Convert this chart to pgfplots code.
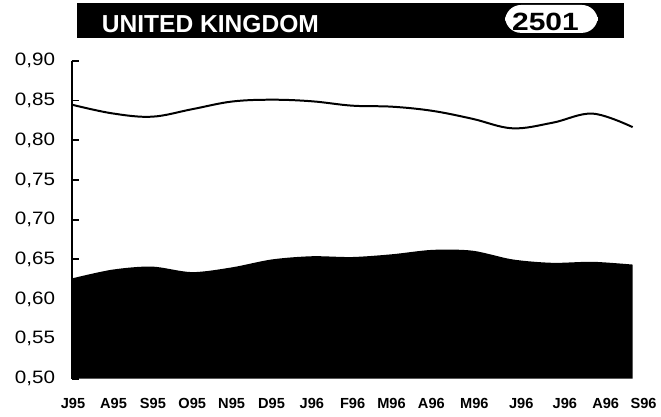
\documentclass[border=0pt]{standalone}
\usepackage{pgfplots}
\pgfplotsset{compat=1.18}
\usepackage{fontspec}
\setmainfont{Liberation Sans}
\newfontfamily\wideticks[FakeStretch=1.15]{Liberation Sans}
\begin{document}
\begin{tikzpicture}
\begin{axis}[
  at={(0,0)}, anchor=south west,
  scale only axis,
  width=437.3pt, height=239.25pt,
  xmin=0, xmax=14.5, ymin=0.5, ymax=0.9,
  axis y line*=left, axis x line*=bottom,
  x axis line style={draw=none},
  y axis line style={line width=1.5pt},
  xtick={0.032,1.044,2.027,3.009,3.991,4.986,5.993,7.012,7.982,8.977,10.05,11.22,12.309,13.329,14.274},
  xticklabels={J95,A95,S95,O95,N95,D95,J96,F96,M96,A96,M96,J96,J96,A96,S96},
  xtick style={draw=none},
  ytick={0.5,0.55,...,0.91},
  ytick style={line width=1.5pt, black},
  major tick length=5.25pt,
  tick align=inside,
  /pgf/number format/.cd, use comma, fixed, fixed zerofill, precision=2, assume math mode=true,
  /pgfplots/.cd,
  yticklabel style={font=\wideticks\fontsize{13.5}{15}\selectfont, xshift=-9pt},
  xticklabel style={font=\fontsize{11}{12}\selectfont\bfseries, yshift=-11pt},
  clip=true,
]
\addplot[fill=black, draw=none, smooth, tension=0.5] coordinates {
(0,0.626) (1,0.637) (2,0.641) (3,0.634) (4,0.640) (5,0.650) (6,0.654) (7,0.653)
(8,0.6565) (9,0.662) (10,0.661) (11,0.650) (12,0.6457) (13,0.647) (14,0.6435)
} \closedcycle;
\addplot[black, line width=1.5pt, smooth, tension=0.6] coordinates {
(0,0.8448) (1,0.8339) (2,0.8296) (3,0.839) (4,0.8487) (5,0.851) (6,0.849) (7,0.8435)
(8,0.8422) (9,0.837) (10,0.827) (11,0.815) (12,0.822) (13,0.8335) (14,0.8165)
};
\end{axis}
\begin{scope}[x=0.75pt,y=0.75pt]
\useasboundingbox (-72,-38) rectangle (589,380);
\fill[black] (5,377) rectangle (554,342);
\node[anchor=base west, inner sep=0, text=white, font=\fontsize{18.5}{20}\selectfont\bfseries] at (30,347) {UNITED KINGDOM};
\fill[white, rounded corners=12] (435,375) rectangle (528,347);
\node[anchor=base, inner sep=0, font=\fontsize{18.8}{20}\selectfont\bfseries, xscale=1.2] at (475.5,349) {2501};
\end{scope}
\end{tikzpicture}
\end{document}
